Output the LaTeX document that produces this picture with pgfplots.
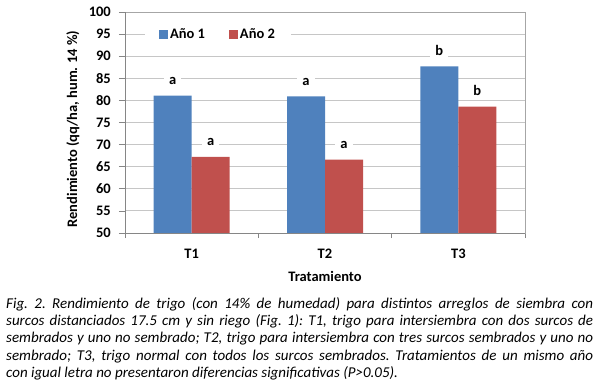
\documentclass[border=0pt]{standalone}
\usepackage{fontspec}
\setmainfont{Carlito}
\usepackage{pgfplots}
\pgfplotsset{compat=1.18}
\definecolor{barblue}{HTML}{4F81BD}
\definecolor{barred}{HTML}{C0504D}
\definecolor{gridgray}{HTML}{C6C6C6}
\definecolor{axgray}{HTML}{868686}
\definecolor{bordergray}{HTML}{A6A6A6}
\newcommand{\chartfont}{\bfseries\fontsize{14.5bp}{17bp}\selectfont}
\frenchspacing
\begin{document}
\begin{tikzpicture}
\useasboundingbox (-125bp,-159bp) rectangle (475bp,233bp);
\begin{axis}[
  at={(0,0)}, anchor=south west,
  scale only axis, width=400bp, height=221bp,
  xmin=-0.5, xmax=2.5, ymin=50, ymax=100,
  ybar=0pt, bar width=38bp,
  xtick={0,1,2}, xticklabels={T1,T2,T3},
  major x tick style={draw=none},
  minor xtick={-0.5,0.5,1.5,2.5},
  minor x tick style={draw=axgray, line width=0.8bp},
  minor tick length=5bp,
  ytick={50,55,...,100},
  ytick pos=left, xtick pos=bottom,
  tick align=outside, major tick length=6bp,
  y tick style={draw=axgray, line width=0.8bp},
  ymajorgrids, grid style={draw=gridgray, line width=0.9bp},
  axis line style={draw=bordergray, line width=0.9bp},
  tick label style={font=\chartfont},
  /pgf/number format/assume math mode=true,
  yticklabel style={anchor=east, inner sep=0pt, xshift=-8bp},
  xticklabel style={anchor=center, inner sep=0pt, yshift=-15bp},
  xlabel={Tratamiento},
  ylabel={Rendimiento (qq/ha, hum. 14 \%)},
  label style={font=\chartfont},
  xlabel style={at={(axis description cs:0.5,0)}, anchor=center, yshift=-43bp, inner sep=0pt},
  ylabel style={at={(axis description cs:-0.13,0.47)}, anchor=center, inner sep=0pt},
  legend columns=2,
  legend style={at={(axis description cs:0.2325,0.9)}, anchor=center, draw=none, fill=white,
    font=\chartfont, inner xsep=14bp, inner ysep=2bp,
    /tikz/every even column/.append style={column sep=22bp}},
  legend image code/.code={\fill[#1] (0bp,-4.5bp) rectangle (9bp,4.5bp);},
  nodes near coords,
  point meta=explicit symbolic,
  nodes near coords style={font=\chartfont, fill=white, anchor=base, yshift=11bp, inner xsep=5bp, inner ysep=1.5bp, text=black},
]
\addplot[fill=barblue, draw=none] coordinates {(0,81.1) [a] (1,80.9) [a] (2,87.7) [b]};
\addplot[fill=barred, draw=none] coordinates {(0,67.2) [a] (1,66.6) [a] (2,78.6) [b]};
\legend{Año 1, Año 2}
\draw[axgray, line width=1bp] (rel axis cs:0,1) -- (rel axis cs:0,0) -- (rel axis cs:1,0);
\end{axis}
\node[anchor=north west, inner sep=0pt, text width=587bp, align=justify,
  font=\itshape\fontsize{15bp}{17.4bp}\selectfont] at (-119bp,-64bp) {Fig.~2. Rendimiento de trigo (con 14\% de humedad) para distintos arreglos de siembra con\linebreak
surcos distanciados 17.5 cm y sin riego (Fig.~1): T1, trigo para intersiembra con dos surcos de\linebreak
sembrados y uno no sembrado; T2, trigo para intersiembra con tres surcos sembrados y uno no\linebreak
sembrado; T3, trigo normal con todos los surcos sembrados. Tratamientos de un mismo año\linebreak
con igual letra no presentaron diferencias significativas (P>0.05).};
\end{tikzpicture}
\end{document}
